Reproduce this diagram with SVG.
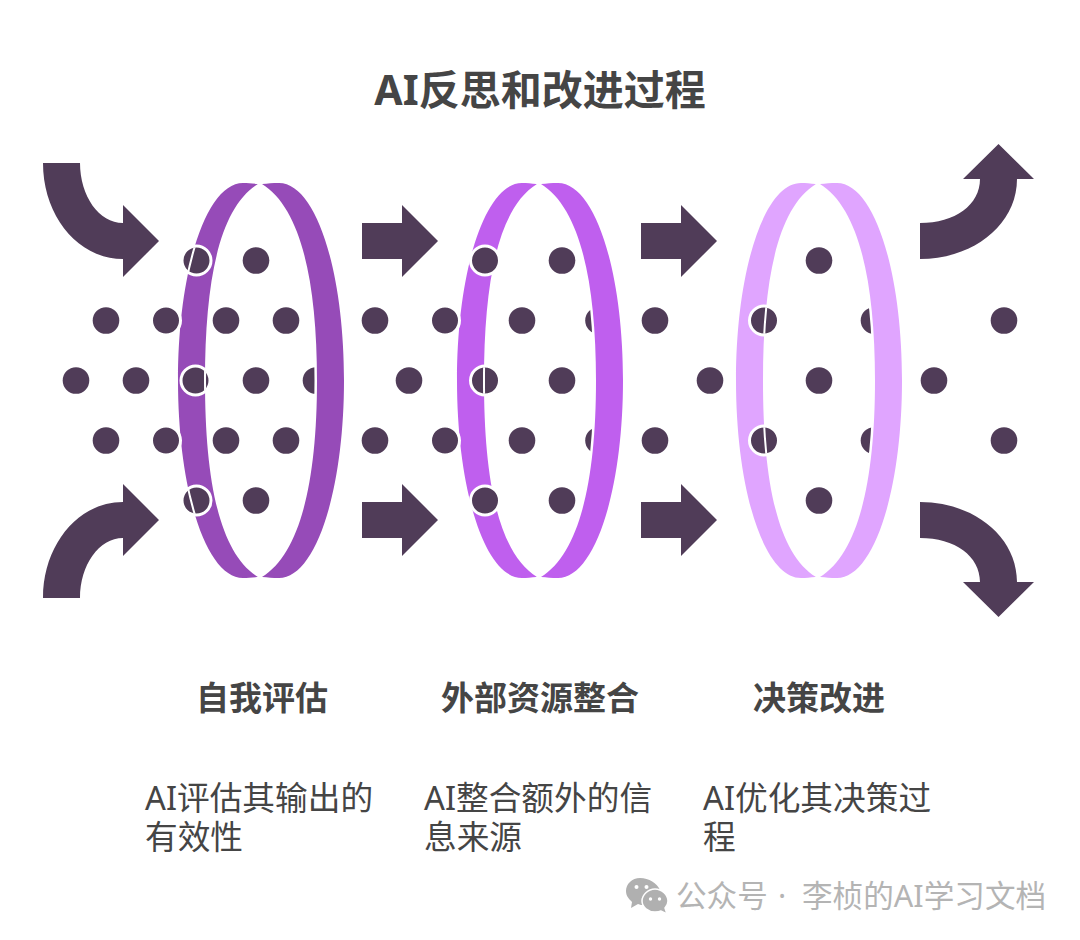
<svg xmlns="http://www.w3.org/2000/svg" width="1080" height="940" viewBox="0 0 1080 940">
<style>
text{font-family:"Noto Sans","Noto Sans CJK SC",sans-serif;fill:#454545}
.t{font-size:41px;font-weight:700;text-anchor:middle}
.h{font-size:33px;font-weight:700;text-anchor:middle}
.b{font-size:32.700px}
.w{font-size:30.600px;fill:#b4b4b4}
.d{fill:#503c58}
.r{fill:#503c58;stroke:#fff;stroke-width:3}
.a{fill:#503c58}
.band{stroke:#fff;stroke-width:5;paint-order:stroke}
.s{fill:none;stroke:#fff;stroke-width:2}
.wm{fill:#b0b0b0}
.eye{fill:#fff}
</style>
<defs>
<path id="bl" d="M258 184C252 183.500 248 183 243 183C206 183 178 271 178 380.500C178 490 206 578 243 578C248 578 252 577.500 258 577C219 553 205 479 205 380.500C205 282 219 208 258 184Z"/>
<path id="br" d="M262 184C268 183.500 272 183 279 183C316 183 344 271 344 380.500C344 490 316 578 279 578C272 578 268 577.500 262 577C301 553 317 479 317 380.500C317 282 301 208 262 184Z"/>
<path id="ar" class="a" d="M0 223H40V205L76 241L40 277V259H0Z"/>
<circle id="dot" r="13.300" class="d"/>
<clipPath id="c1"><circle cx="196.500" cy="260.500" r="13.300"/><circle cx="195.500" cy="380.500" r="13.300"/><circle cx="196.500" cy="500.500" r="13.300"/></clipPath>
<clipPath id="c2"><circle cx="206" cy="380.500" r="13.300"/></clipPath>
<clipPath id="c3"><circle cx="206" cy="320.500" r="13.300"/><circle cx="206" cy="440.500" r="13.300"/></clipPath>
</defs>
<g id="title"><text class="t" x="540" y="105">AI反思和改进过程</text></g>
<g id="connectors">
<path class="a" d="M43 163H80C80 196 99 223 123 223V205L159 241L123 277V259C78 259 43 216 43 163Z"/>
<path class="a" d="M43 598H80C80 565 99 538 123 538V556L159 520L123 484V502C78 502 43 545 43 598Z"/>
<use href="#ar" x="362"/>
<use href="#ar" x="641"/>
<use href="#ar" x="362" y="279"/>
<use href="#ar" x="641" y="279"/>
<path class="a" d="M920 223C955 223 980 205 980 179H963L998.500 144L1034 179H1017C1017 225 973 259 920 259Z"/>
<path class="a" d="M920 538C955 538 980 556 980 582H963L998.500 617L1034 582H1017C1017 536 973 502 920 502Z"/>
</g>
<g id="dots-free">
<use href="#dot" x="106" y="320.500"/>
<use href="#dot" x="76" y="380.500"/><use href="#dot" x="136" y="380.500"/>
<use href="#dot" x="106" y="440.500"/>
<use href="#dot" x="226" y="320.500"/><use href="#dot" x="286" y="320.500"/>
<use href="#dot" x="256" y="260.500"/><use href="#dot" x="256" y="380.500"/><use href="#dot" x="316" y="380.500"/>
<use href="#dot" x="226" y="440.500"/><use href="#dot" x="286" y="440.500"/><use href="#dot" x="256" y="500.500"/>
<use href="#dot" x="375" y="320.500"/>
<use href="#dot" x="409" y="380.500"/>
<use href="#dot" x="375" y="440.500"/>
<use href="#dot" x="522" y="320.500"/><use href="#dot" x="598.500" y="320.500"/>
<use href="#dot" x="562" y="260.500"/><use href="#dot" x="562" y="380.500"/>
<use href="#dot" x="522" y="440.500"/><use href="#dot" x="598.500" y="440.500"/><use href="#dot" x="562" y="500.500"/>
<use href="#dot" x="655" y="320.500"/><use href="#dot" x="710" y="380.500"/><use href="#dot" x="655" y="440.500"/>
<use href="#dot" x="819" y="260.500"/><use href="#dot" x="819" y="380.500"/><use href="#dot" x="819" y="500.500"/>
<use href="#dot" x="874" y="320.500"/><use href="#dot" x="874" y="440.500"/>
<use href="#dot" x="934" y="380.500"/><use href="#dot" x="1004" y="320.500"/><use href="#dot" x="1004" y="440.500"/>
</g>
<g id="ring-1" fill="#964bb8">
<use href="#bl" class="band"/><use href="#br" class="band"/>
<circle class="r" cx="166" cy="320.500" r="14.500"/><circle class="r" cx="166" cy="440.500" r="14.500"/>
<circle class="r" cx="196.500" cy="260.500" r="14.500"/><circle class="r" cx="195.500" cy="380.500" r="14.500"/><circle class="r" cx="196.500" cy="500.500" r="14.500"/>
<g clip-path="url(#c1)"><use href="#bl" class="s"/></g>
</g>
<g id="ring-2" fill="#bf5fee" transform="translate(279 0)">
<use href="#bl" class="band"/><use href="#br" class="band"/>
<circle class="r" cx="166" cy="320.500" r="14.500"/><circle class="r" cx="166" cy="440.500" r="14.500"/>
<circle class="r" cx="206" cy="260.500" r="14.500"/><circle class="r" cx="206" cy="380.500" r="14.500"/><circle class="r" cx="206" cy="500.500" r="14.500"/>
<g clip-path="url(#c2)"><use href="#bl" class="s"/></g>
</g>
<g id="ring-3" fill="#e0a5ff" transform="translate(558 0)">
<use href="#bl" class="band"/><use href="#br" class="band"/>
<circle class="r" cx="206" cy="320.500" r="14.500"/><circle class="r" cx="206" cy="440.500" r="14.500"/>
<g clip-path="url(#c3)"><use href="#bl" class="s"/></g>
</g>
<g id="col-1"><text class="h" x="262" y="710">自我评估</text><text class="b" x="145" y="810">AI评估其输出的<tspan x="145" dy="39">有效性</tspan></text></g>
<g id="col-2"><text class="h" x="540" y="710">外部资源整合</text><text class="b" x="424" y="810">AI整合额外的信<tspan x="424" dy="39">息来源</tspan></text></g>
<g id="col-3"><text class="h" x="819" y="710">决策改进</text><text class="b" x="703" y="810">AI优化其决策过<tspan x="703" dy="39">程</tspan></text></g>
<g id="watermark">
<path class="wm" d="M640 878C632 878 626 884 626 891C626 896 629 899 632 902L631 908L638 904C640 905 642 905 644 905L660 890C657 883 649 878 640 878Z"/>
<path class="wm" stroke="#fff" stroke-width="1.500" d="M655 889C648 889 642 895 642 901C642 907 648 912 655 912C657 912 659 912 661 911L667 914L665 908C667 906 668 904 668 901C668 895 662 889 655 889Z"/>
<circle class="eye" cx="636.500" cy="887" r="2"/><circle class="eye" cx="646.500" cy="887" r="2"/>
<circle class="eye" cx="650.500" cy="899" r="1.700"/><circle class="eye" cx="659.500" cy="899" r="1.700"/>
<text class="w" x="676" y="907">公众号<tspan x="778">·</tspan><tspan x="802">李桢的AI学习文档</tspan></text>
</g>
</svg>
